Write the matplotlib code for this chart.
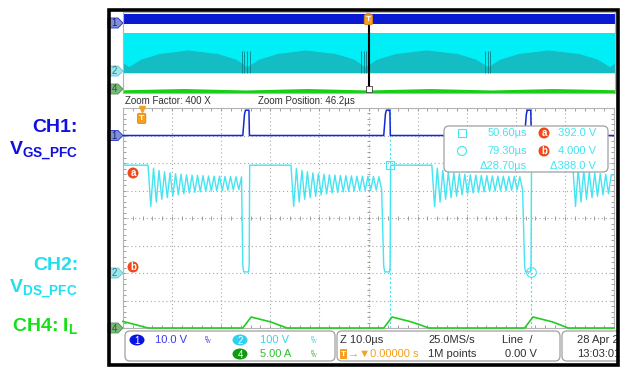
import numpy as np
import matplotlib.pyplot as plt
from matplotlib.patches import Rectangle, FancyBboxPatch, Polygon, Ellipse, Circle
from matplotlib.ticker import MultipleLocator

plt.rcParams['font.family'] = ['Liberation Sans Narrow', 'Liberation Sans', 'DejaVu Sans']
plt.rcParams['mathtext.fontset'] = 'custom'
plt.rcParams['mathtext.bf'] = 'Liberation Sans:bold'
plt.rcParams['mathtext.rm'] = 'Liberation Sans'

#################################
# scope settings
#################################
zoom_pos = 46.2          # us, centre of zoom window
t_span = 100.0           # us, 10 div x 10 us
t_left = zoom_pos - t_span / 2

ch1_scale, ch1_pos = 10.0, 3.0    # V/div, div
ch2_scale, ch2_pos = 100.0, -2.0
ch4_scale, ch4_pos = 5.0, -4.0

# CH1 : gate drive (us / V)
gate_on = [20.6, 49.3, 78.0]
gate_off = [21.9, 50.6, 79.3]
gate_high = 9.2

# CH2 : drain voltage (us / V)
vds_bus = 392.0
vds_valley = 4.0
ring_start = [1.3, 30.4, 59.1, 87.8]
ring_period = 1.12
ring_crest = [392, 381, 373, 368, 364, 361, 359, 357, 356, 355, 354, 353, 352, 352, 351, 351, 350, 350]
ring_trough = [242, 258, 268, 274, 279, 284, 288, 291, 293, 295, 297, 298, 299, 300, 301, 302, 303, 303]

# CH4 : inductor current (us / A)
il_left = 1.2
il_left_zero = 1.3
il_peak_t = [22.3, 51.0, 79.7]
il_peak = [2.0, 2.0, 2.0]
il_knee_t = [26.3, 55.0, 83.7]
il_knee = [1.1, 1.1, 1.1]
il_zero_t = [29.6, 58.5, 86.9]

# cursors
cur_a_t, cur_a_v = 50.60, 392.0
cur_b_t, cur_b_v = 79.30, 4.000

# overview record (ms), 400 x zoom
ov_span = 40.0
# dense ringing area of CH2, arches between line zero crossings
ov_dark_t = [-19.95, -19.5, -18.5, -17.0, -14.7, -12.3, -10.8, -9.85,
             -8.9, -7.4, -5.1, -2.7, -1.2, -0.3,
             0.7, 2.2, 4.7, 7.2, 8.7, 9.7,
             10.7, 12.2, 14.6, 17.1, 18.6, 19.6, 20.05]
ov_dark_v = [100, 60, 135, 190, 225, 190, 135, 60,
             135, 190, 225, 190, 135, 60,
             135, 190, 225, 190, 135, 60,
             135, 190, 225, 190, 135, 60, 100]
ov_spikes = [-10.3, -10.1, -9.9, -9.6, -0.6, -0.4, -0.2, 9.5, 9.7, 9.9]
ov_il_t = [-19.95, -15.0, -10.0, -5.0, 0.0, 5.0, 10.0, 15.0, 20.05]
ov_il = [1.6, 2.2, 1.5, 2.2, 1.5, 2.2, 1.5, 2.2, 1.6]

c1 = '#1428d8'
c2 = '#44e4f2'
c4 = '#22cc22'
orange = '#f5a020'
grey = '#a8a8a8'

W, H = 624, 367
fig = plt.figure(figsize=(W / 100, H / 100), dpi=100)
fig.patch.set_facecolor('white')


def px_axes(x0, y0, x1, y1, **kw):
    return fig.add_axes([x0 / W, 1 - y1 / H, (x1 - x0) / W, (y1 - y0) / H], **kw)


#################################
# zoomed window
#################################
ax = px_axes(123, 108, 614, 328)
ax.set_xlim(t_left, t_left + t_span)
ax.set_ylim(-4, 4)
ax.xaxis.set_major_locator(MultipleLocator(10, offset=t_left % 10))
ax.xaxis.set_minor_locator(MultipleLocator(2, offset=t_left % 2))
ax.yaxis.set_major_locator(MultipleLocator(1))
ax.yaxis.set_minor_locator(MultipleLocator(0.2))
ax.tick_params(which='both', direction='in', length=2.5, width=0.6, color='#909090',
               top=True, right=True, labelbottom=False, labelleft=False)
ax.grid(which='major', color=grey, linestyle=(0, (1, 2.5)), linewidth=0.8)
for s in ax.spines.values():
    s.set_color('#b4b4b4')
    s.set_linewidth(0.8)
# centre cross ticks
xs = np.arange(t_left, t_left + t_span + 1e-6, 2.0)
ax.vlines(xs, -0.07, 0.07, color='#909090', lw=0.6)
ys = np.arange(-4, 4.01, 0.2)
ax.hlines(ys, zoom_pos - 0.35, zoom_pos + 0.35, color='#909090', lw=0.6)

# CH1 gate
t1, v1 = [t_left], [0.0]
for on, off in zip(gate_on, gate_off):
    t1 += [on, on + 0.35, on + 0.55, off - 0.05, off + 0.05]
    v1 += [0.0, gate_high * 0.85, gate_high, gate_high, 0.0]
t1.append(t_left + t_span)
v1.append(0.0)
ax.plot(t1, ch1_pos + np.array(v1) / ch1_scale, color=c1, lw=1.1, zorder=4)

# CH2 drain
t2, v2 = [t_left], [vds_bus]
for i, t0 in enumerate(ring_start):
    t_end = gate_on[i] if i < len(gate_on) else t_left + t_span
    for k in range(len(ring_crest)):
        tc = t0 + k * ring_period
        tt = tc + ring_period / 2
        if tc < t_end:
            t2.append(tc)
            v2.append(ring_crest[k])
        if tt < t_end:
            t2.append(tt)
            v2.append(ring_trough[k])
    if i < len(gate_on):
        on, off = gate_on[i], gate_off[i]
        t2 += [on, on + 0.2, off - 0.1, off, off + 0.1]
        v2 += [25.0, vds_valley, vds_valley, 30.0, vds_bus]
t2.append(t_left + t_span)
v2.append(v2[-1])
ax.plot(t2, ch2_pos + np.array(v2) / ch2_scale, color=c2, lw=1.0, zorder=3)

# CH4 inductor current
t4, i4 = [t_left, il_left_zero], [il_left, 0.0]
for on, tp, ip, tk, ik, tz in zip(gate_on, il_peak_t, il_peak, il_knee_t, il_knee, il_zero_t):
    t4 += [on, tp, tk, tz]
    i4 += [0.0, ip, ik, 0.0]
t4.append(t_left + t_span)
i4.append(0.0)
ax.plot(t4, ch4_pos + np.array(i4) / ch4_scale, color=c4, lw=1.2, zorder=3, clip_on=False)

# cursors
ax.axvline(cur_a_t, color=c2, lw=0.8, ls=(0, (2, 2)), zorder=2)
ax.axvline(cur_b_t, color=c2, lw=0.8, ls=(0, (2, 2)), zorder=2)
ax.plot(cur_a_t, ch2_pos + cur_a_v / ch2_scale, marker='s', ms=6, mfc='none', mec=c2, mew=0.8, zorder=5)
ax.plot(cur_b_t, ch2_pos + cur_b_v / ch2_scale, marker='o', ms=7, mfc='none', mec=c2, mew=0.8, zorder=5)

# trigger point
ax.plot(0, 3.95, marker='v', ms=5, color=orange, clip_on=False, zorder=6)
ax.text(0, 3.62, 'T', ha='center', va='center', color='white', fontsize=6, fontweight='bold',
        bbox=dict(boxstyle='round,pad=0.2', fc=orange, ec='#d88000', lw=0.5), zorder=6)

#################################
# overview record
#################################
ov_left = zoom_pos / 1000 - ov_span / 2
ova = px_axes(123, 12, 615, 93)
ova.set_xlim(ov_left, ov_left + ov_span)
ova.set_ylim(-4, 4)
ova.set_xticks([])
ova.set_yticks([])
for s in ova.spines.values():
    s.set_color('#b4b4b4')
    s.set_linewidth(0.8)
ox = [ov_left, ov_left + ov_span]
ova.fill_between(ox, ch1_pos - 1.5 / ch1_scale, ch1_pos + 8.5 / ch1_scale, color='#0a1ad2', lw=0)
ova.fill_between(ox, ch2_pos, ch2_pos + vds_bus / ch2_scale, color='#00eef6', lw=0)
ova.fill_between(ov_dark_t, ch2_pos, ch2_pos + np.array(ov_dark_v) / ch2_scale, color='#14bcc4', lw=0)
ova.vlines(ov_spikes, ch2_pos, ch2_pos + 2.1, color='#0a8088', lw=0.6)
ova.fill_between(ov_il_t, ch4_pos, ch4_pos + np.array(ov_il) / ch4_scale, color='#16d016', lw=0)
ova.plot([zoom_pos / 1000] * 2, [2.9, -3.6], color='black', lw=1.5)
ova.plot(zoom_pos / 1000, -3.65, marker='s', ms=4, mfc='white', mec='#404040', mew=0.6)
ova.plot(0, 3.95, marker='v', ms=5, color=orange, clip_on=False)
ova.text(0, 3.25, 'T', ha='center', va='center', color='white', fontsize=6, fontweight='bold',
         bbox=dict(boxstyle='round,pad=0.2', fc=orange, ec='#d88000', lw=0.5))

#################################
# labels, markers and status bar (pixel layer)
#################################
ov = fig.add_axes([0, 0, 1, 1], zorder=5)
ov.set_xlim(0, W)
ov.set_ylim(H, 0)
ov.axis('off')
ov.patch.set_alpha(0)


def ch_tag(y, num, fc, ec, tc):
    pts = [(108, y - 5), (118, y - 5), (123, y), (118, y + 5), (108, y + 5)]
    ov.add_patch(Polygon(pts, closed=True, fc=fc, ec=ec, lw=0.6))
    ov.text(114, y + 0.5, num, ha='center', va='center', fontsize=7, color=tc)


grid_top, div_h = 108, 27.5
ch_tag(grid_top + (4 - ch1_pos) * div_h, '1', '#8090d8', '#2030c0', '#202060')
ch_tag(grid_top + (4 - ch2_pos) * div_h, '2', '#9ae8ee', '#60c8d0', '#507070')
ch_tag(grid_top + (4 - ch4_pos) * div_h, '4', '#78b878', '#509050', '#405040')
ch_tag(23, '1', '#8090d8', '#2030c0', '#202060')
ch_tag(71, '2', '#9ae8ee', '#60c8d0', '#507070')
ch_tag(89, '4', '#78b878', '#509050', '#405040')

# zoom info row
ov.text(125, 101, 'Zoom Factor: 400 X', fontsize=7, color='#303030', va='center')
ov.text(258, 101, 'Zoom Position: 46.2\u00b5s', fontsize=7, color='#303030', va='center')


def badge(x, y, txt, fc):
    ov.add_patch(Circle((x, y), 5.5, fc=fc, ec='none'))
    ov.text(x, y + 0.5, txt, ha='center', va='center', fontsize=7, color='white', fontweight='bold')


badge(133, 173, 'a', '#f04818')
badge(133, 267, 'b', '#f04818')

# cursor readout
ov.add_patch(FancyBboxPatch((444, 126), 164, 46, boxstyle='round,pad=0,rounding_size=5',
                            fc='white', ec='#a0a0a0', lw=0.9))
ov.add_patch(Rectangle((458, 129), 8, 8, fc='none', ec=c2, lw=0.8))
ov.add_patch(Circle((462, 151), 4.5, fc='none', ec=c2, lw=0.8))
ov.text(527, 133, '50.60\u00b5s', ha='right', va='center', fontsize=8, color=c2)
ov.text(527, 151, '79.30\u00b5s', ha='right', va='center', fontsize=8, color=c2)
ov.text(527, 166, '\u039428.70\u00b5s', ha='right', va='center', fontsize=8, color=c2)
badge(544, 133, 'a', '#f04818')
badge(544, 151, 'b', '#f04818')
ov.text(596, 133, '392.0 V', ha='right', va='center', fontsize=8, color=c2)
ov.text(596, 151, '4.000 V', ha='right', va='center', fontsize=8, color=c2)
ov.text(596, 166, '\u0394388.0 V', ha='right', va='center', fontsize=8, color=c2)

# status bar
for x0, x1 in [(125, 335), (337, 560), (562, 640)]:
    ov.add_patch(FancyBboxPatch((x0, 331), x1 - x0, 30, boxstyle='round,pad=0,rounding_size=5',
                                fc='white', ec='#a0a0a0', lw=0.9))


def ch_badge(x, y, txt, fc):
    ov.add_patch(Ellipse((x, y), 15, 11, fc=fc, ec='none'))
    ov.text(x, y + 0.5, txt, ha='center', va='center', fontsize=7, color='white')


def bw_icon(x, y, col):
    ov.text(x, y - 1.5, 'B', fontsize=3.5, color=col, ha='center', va='center')
    ov.text(x + 2.5, y + 1.5, 'W', fontsize=3.5, color=col, ha='center', va='center')


ch_badge(137, 340, '1', '#0a14e0')
ov.text(155, 340, '10.0 V', fontsize=8, color='#3a3af0', va='center')
bw_icon(206, 340, '#3a3af0')
ch_badge(240, 340, '2', '#30d0f0')
ov.text(260, 340, '100 V', fontsize=8, color='#30d8ee', va='center')
bw_icon(312, 340, '#30d8ee')
ch_badge(240, 354, '4', '#109a10')
ov.text(260, 354, '5.00 A', fontsize=8, color='#30c030', va='center')
bw_icon(312, 354, '#30c030')

ov.text(340, 340, 'Z 10.0\u00b5s', fontsize=8, color='#303030', va='center')
ov.text(428, 340, '25.0MS/s', fontsize=8, color='#303030', va='center')
ov.text(502, 340, 'Line  /', fontsize=8, color='#303030', va='center')
ov.add_patch(Rectangle((340, 349), 7, 10, fc=orange, ec='none'))
ov.text(343.5, 354.5, 'T', fontsize=6, color='white', ha='center', va='center', fontweight='bold')
ov.text(348, 354, '\u2192\u25bc0.00000 s', fontsize=8, color=orange, va='center')
ov.text(428, 354, '1M points', fontsize=8, color='#303030', va='center')
ov.text(505, 354, '0.00 V', fontsize=8, color='#303030', va='center')
ov.text(577, 340, '28 Apr 2', fontsize=8, color='#303030', va='center')
ov.text(577, 354, '13:03:01', fontsize=8, color='#303030', va='center')

# screen frame
ov.add_patch(Rectangle((619.5, 0), 10, H, fc='white', ec='none', zorder=8))
ov.add_patch(Rectangle((108.5, 9.5), 509, 355, fc='none', ec='black', lw=2.6, zorder=9))

# channel names
lab = dict(ha='right', fontsize=14, fontweight='bold', family='Liberation Sans')
ov.text(78, 132, 'CH1:', color='#1010e0', **lab)
ov.text(78, 155, r'V$_{\mathbf{GS\_PFC}}$', color='#1010e0', **lab)
ov.text(78, 270, 'CH2:', color='#20e0f0', **lab)
ov.text(78, 293, r'V$_{\mathbf{DS\_PFC}}$', color='#20e0f0', **lab)
ov.text(78, 332, r'CH4: I$_{\mathbf{L}}$', color='#18e018', **lab)

plt.savefig('out.png', dpi=100)
